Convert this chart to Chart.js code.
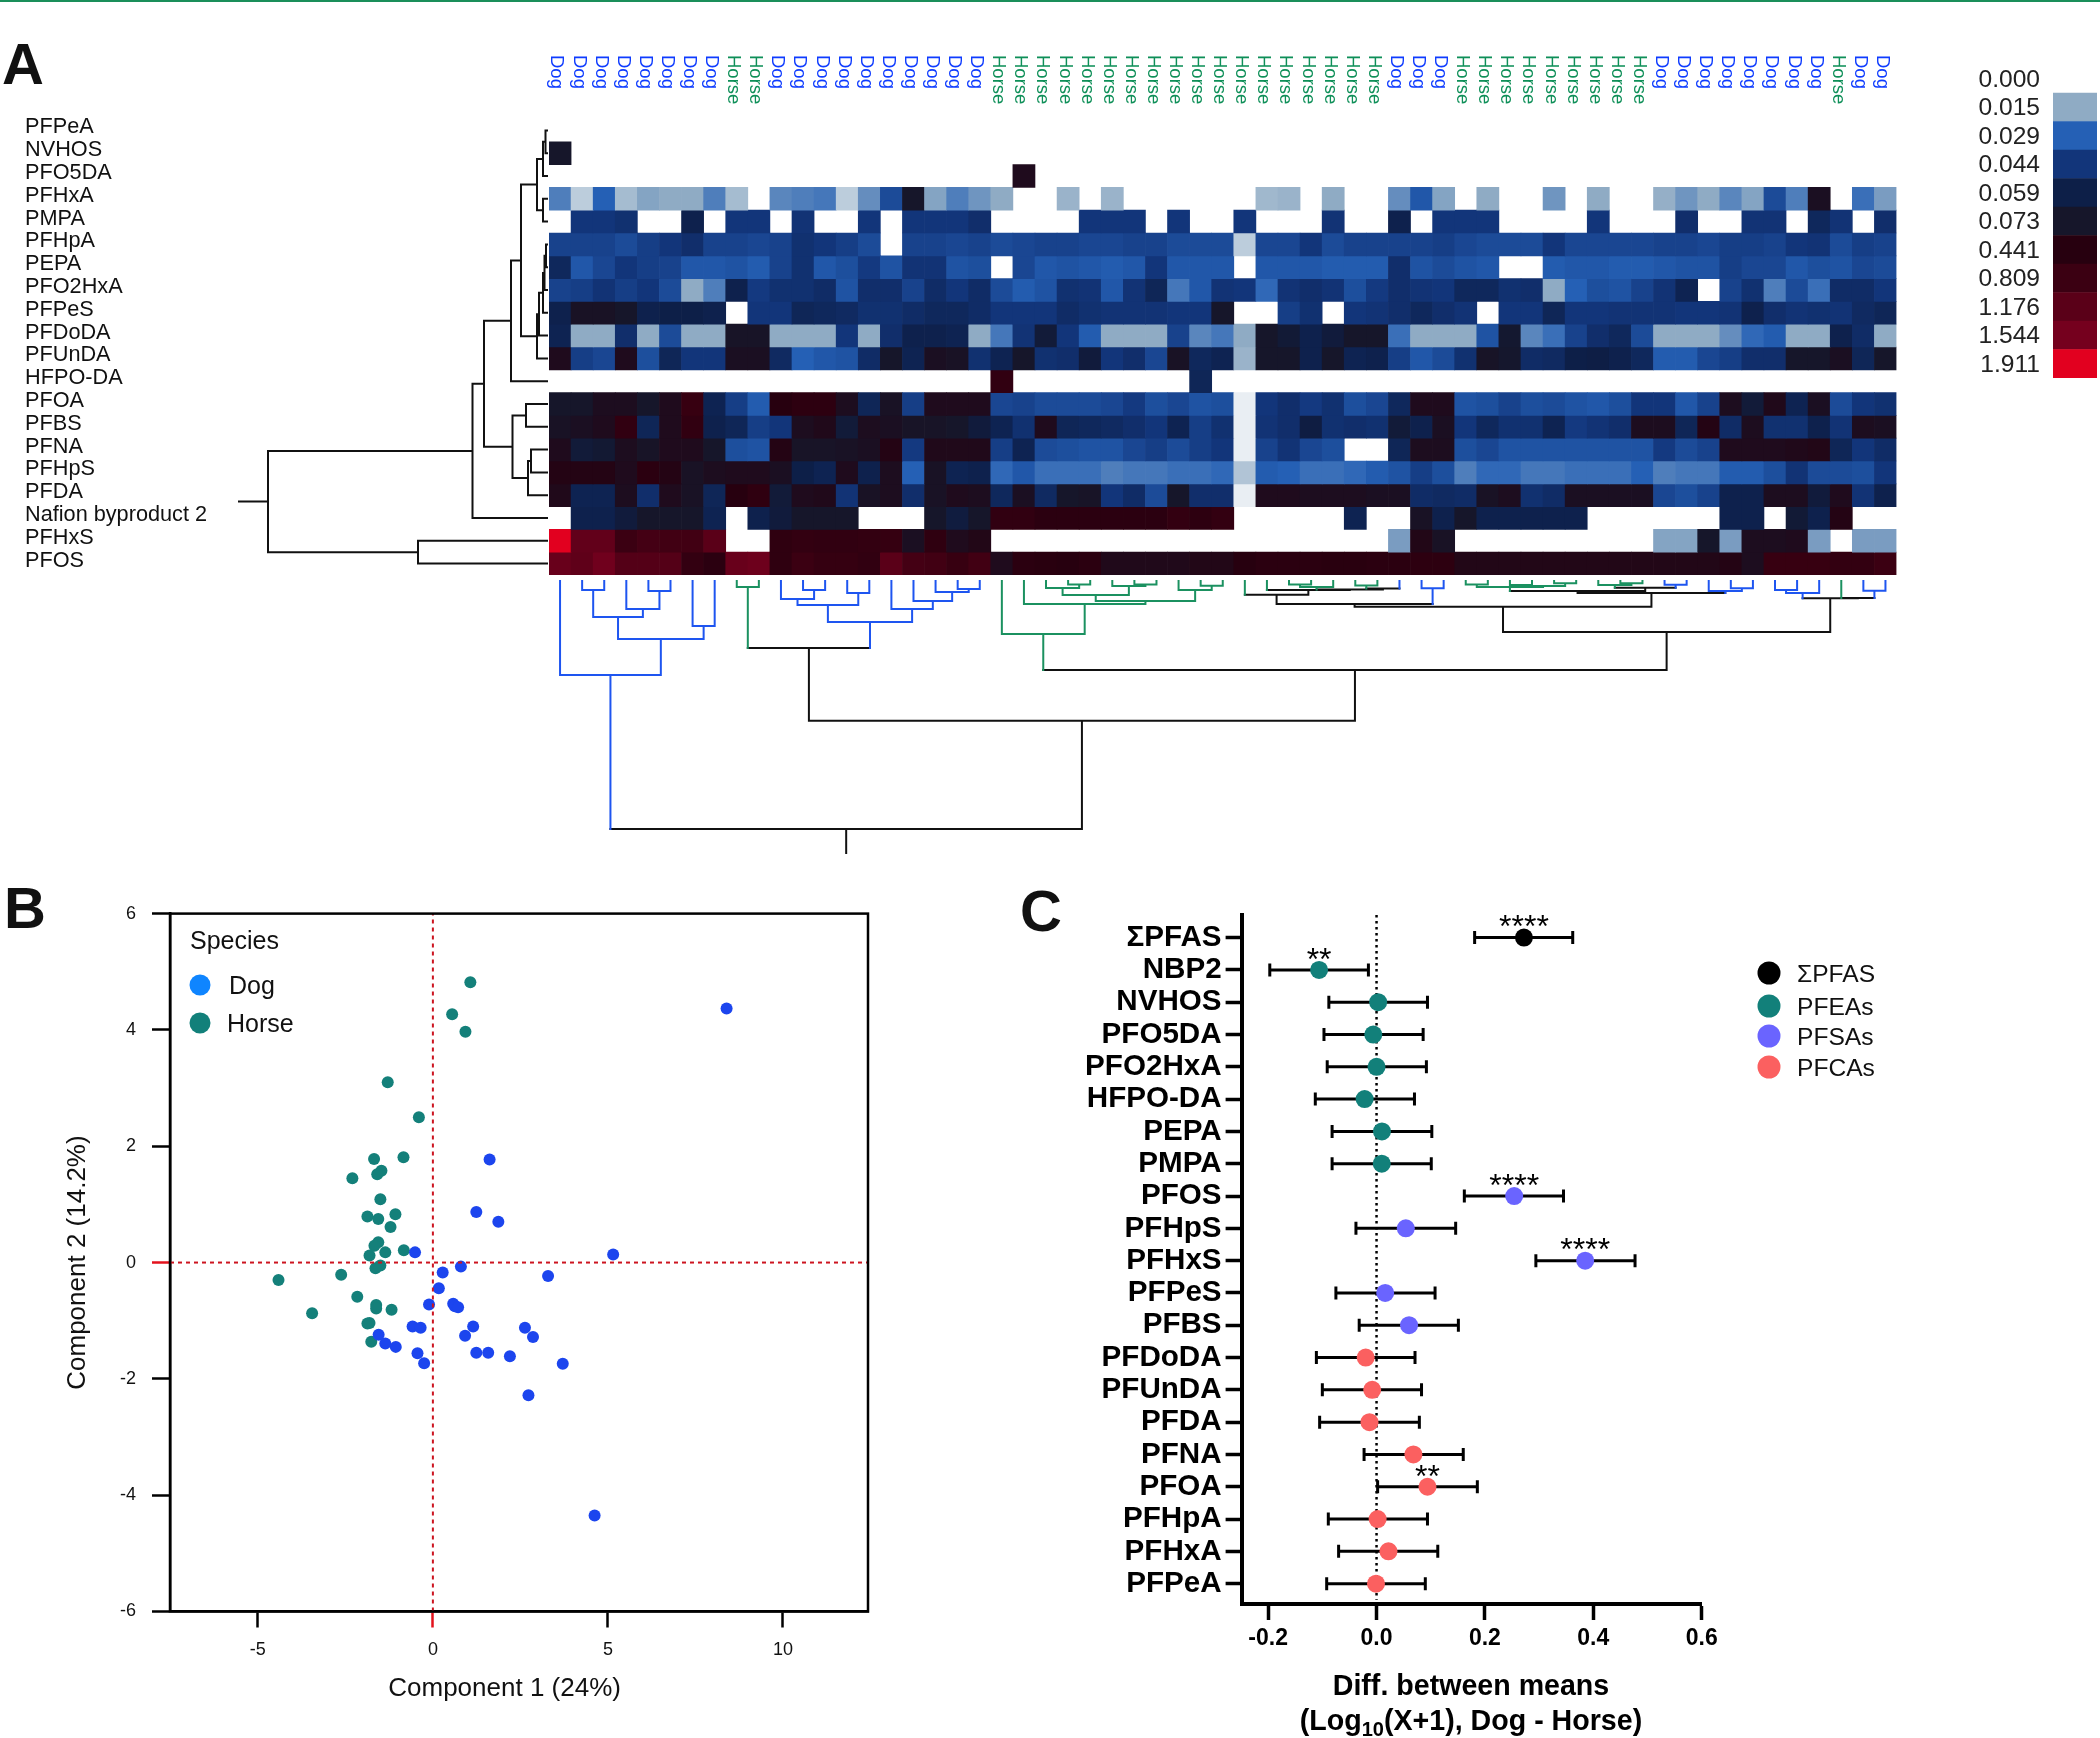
<!DOCTYPE html>
<html>
<head>
<meta charset="utf-8">
<title>PFAS in dogs and horses</title>
<script src="https://cdn.jsdelivr.net/npm/chart.js@4"></script>
<style>
  html, body { margin: 0; padding: 0; background: #fff; }
  #page { position: relative; width: 2100px; height: 1738px; overflow: hidden; font-family: "Liberation Sans", Arial, sans-serif; color: #111; }
  #page canvas { position: absolute; left: 0; top: 0; }
  .txt { position: absolute; white-space: nowrap; transform: translateY(-50%); line-height: 1; }
  .mid { transform: translate(-50%, -50%); }
  .dot { position: absolute; border-radius: 50%; transform: translate(-50%, -50%); }
  sub { font-size: 70%; line-height: 0; }
</style>
</head>
<body>
<div id="page"></div>
<script>
// ---------- panel A data ----------
const rowLabels = ['PFPeA', 'NVHOS', 'PFO5DA', 'PFHxA', 'PMPA', 'PFHpA', 'PEPA', 'PFO2HxA', 'PFPeS', 'PFDoDA', 'PFUnDA', 'HFPO-DA', 'PFOA', 'PFBS', 'PFNA', 'PFHpS', 'PFDA', 'Nafion byproduct 2', 'PFHxS', 'PFOS'];
const colLabels = [
  'Dog', 'Dog', 'Dog', 'Dog', 'Dog', 'Dog', 'Dog', 'Dog', 'Horse', 'Horse',
  'Dog', 'Dog', 'Dog', 'Dog', 'Dog', 'Dog', 'Dog', 'Dog', 'Dog', 'Dog',
  'Horse', 'Horse', 'Horse', 'Horse', 'Horse', 'Horse', 'Horse', 'Horse', 'Horse', 'Horse',
  'Horse', 'Horse', 'Horse', 'Horse', 'Horse', 'Horse', 'Horse', 'Horse', 'Dog', 'Dog',
  'Dog', 'Horse', 'Horse', 'Horse', 'Horse', 'Horse', 'Horse', 'Horse', 'Horse', 'Horse',
  'Dog', 'Dog', 'Dog', 'Dog', 'Dog', 'Dog', 'Dog', 'Dog', 'Horse', 'Dog', 'Dog'
];
const binLabels = ['0.000', '0.015', '0.029', '0.044', '0.059', '0.073', '0.441', '0.809', '1.176', '1.544', '1.911'];
const binColors = ['#ffffff', '#8fabc4', '#2560b5', '#12357a', '#0d1f48', '#16162a', '#27000f', '#3b0012', '#5a0018', '#75001e', '#e2001f'];

// each cell is read as a position on the colour key (0 = 0.000 ... 10 = 1.911)
const heatRows = [
  [0,0,0,0,0,0,0,0,0,0, 0,0,0,0,0,0,0,0,0,0, 0,0,0,0,0,0,0,0,0,0, 0,0,0,0,0,0,0,0,0,0, 0,0,0,0,0,0,0,0,0,0, 0,0,0,0,0,0,0,0,0,0,0],
  [5,0,0,0,0,0,0,0,0,0, 0,0,0,0,0,0,0,0,0,0, 0,0,0,0,0,0,0,0,0,0, 0,0,0,0,0,0,0,0,0,0, 0,0,0,0,0,0,0,0,0,0, 0,0,0,0,0,0,0,0,0,0,0],
  [0,0,0,0,0,0,0,0,0,0, 0,0,0,0,0,0,0,0,0,0, 0,5.5,0,0,0,0,0,0,0,0, 0,0,0,0,0,0,0,0,0,0, 0,0,0,0,0,0,0,0,0,0, 0,0,0,0,0,0,0,0,0,0,0],
  [1.6,.6,2,.8,1.1,1,1,1.6,.8,0, 1.5,1.6,1.7,.6,1.4,2.5,5,1.1,1.6,1.3, 1,0,0,.9,0,.9,0,0,0,0, 0,0,.85,.9,0,1,0,0,1.4,2.2, 1.1,0,1,0,0,1.3,0,1,0,0, .95,1.3,1,1.5,1.1,2.5,1.6,5.3,0,1.8,1.2],
  [0,3,3,3.2,0,0,3.9,0,3,3, 0,3.1,0,0,3,0,3,3,3,3.3, 0,0,0,0,3,3,3,0,3,0, 0,3,0,0,0,3.1,0,0,3.9,0, 3,3,3,0,0,0,0,3,0,0, 0,3.3,0,0,3.1,3.1,0,3.6,3.1,0,3.3],
  [2.7,2.7,2.7,2.5,2.8,3,3.3,2.7,2.7,2.6, 2.7,3.2,3,2.8,2.5,0,2.7,2.7,2.6,2.7, 2.5,2.6,2.7,2.7,2.6,2.6,2.7,2.7,2.5,2.5, 2.5,.6,2.6,2.6,3,2.5,2.7,2.7,2.7,2.7, 2.8,2.6,2.5,2.5,2.5,3,2.6,2.6,2.6,2.6, 2.7,2.7,2.6,2.8,2.8,2.7,3,3.1,2.5,2.8,2.7],
  [3.6,2.2,2.6,3,2.8,2.7,2.2,2.2,2.3,2.1, 2.7,3.2,2.2,2.4,2.9,2.3,3.1,3.1,2.3,2.4, 0,2.6,2.2,2.3,2.2,2.1,2.2,3,2.2,2.2, 2.2,0,2.2,2.2,2.2,2.1,2.1,2.1,3.3,2.3, 2.5,2.3,2.2,0,0,2.1,2.2,2.2,2.1,2.1, 2.2,2.3,2.3,2.8,2.6,2.6,2.2,2.4,2.3,2.6,2.5],
  [2.7,2.8,3.1,2.8,3,2.5,1,1.6,3.9,2.9, 3.2,3.2,3.4,2.3,3.3,3.3,2.7,3.4,3,3.4, 2.5,2.1,2.3,3.2,3.1,2.2,3.1,3.7,1.7,2.2, 3.1,3,1.9,3.1,3.3,3.1,2.4,2.9,3.3,3.1, 3,3.6,3.6,3.2,3.3,1,2,2.4,2.3,2.7, 3.1,3.8,0,2.7,3.2,1.6,2.5,1.8,3.4,3.4,3],
  [3.9,5.2,5.2,5,3.9,4,4,3.9,0,3, 3,3.7,3.6,3.5,3.2,3.2,3.4,3.6,3.6,3.4, 3,3,3,3.4,3.2,3.1,3.1,3.1,3,3, 5,0,0,2.8,3.2,0,3,3.1,3.3,3.6, 3.3,3.1,0,3,3,3.7,3,3,3.1,3.1, 3.1,3,3,3.1,3.9,3.3,3.1,3.2,3.1,3.5,3.7],
  [3.8,1,1,3.3,1,2.5,1,1,5.1,5.1, 1,1,1,3,1,3.3,3.9,3.9,3.8,1, 1.7,3.1,4.5,3,2.1,1,1,1,2.7,1.5, 1.7,1,5,4.6,3.9,4.4,5,5,1.8,1, 1,1,2.3,4.8,1.5,1.8,2.7,3.3,3.6,2.5, 1,1,1,1.4,1.9,2.1,1,1,3.9,3.4,1],
  [5.5,2.8,2.6,5.5,2.4,3.7,3,3,5.3,5.3, 3.5,2,2.2,2.3,3.4,5,3.8,5.3,5.2,3.2, 3.8,5,3.2,3.3,4.4,3,3.3,2.6,5.2,3.6, 3.8,.9,5,5,3.9,5,3.8,3.9,2.8,2.2, 2.5,3.2,5.1,4.9,3.4,3.5,4,4.1,3.9,3.6, 2.1,2.1,2.6,2.8,3.3,3.3,5,5,5.3,3.7,5],
  [0,0,0,0,0,0,0,0,0,0, 0,0,0,0,0,0,0,0,0,0, 6.5,0,0,0,0,0,0,0,0,3.7, 0,0,0,0,0,0,0,0,0,0, 0,0,0,0,0,0,0,0,0,0, 0,0,0,0,0,0,0,0,0,0,0],
  [5,5,5.4,5.4,5,5.5,6.8,3.8,2.8,2.1, 6,6.3,6.3,5.4,3.7,5.2,2.8,5.5,5.5,5.5, 2.6,2.7,2.5,2.5,2.5,2.6,2.9,2.4,2.6,2.3, 2.4,.2,3,3.3,2.9,3.2,2.4,2.6,3.6,5.5, 5.5,2.3,2.4,2.7,2.4,2.5,2.3,2.2,2.4,3, 3,2.2,2.7,5.4,4.5,5.6,3.8,5.3,2.5,3,3.2],
  [5.2,5.3,5.5,6.5,3.7,5.5,6.5,3.9,3.7,2.8, 3,5.4,5.6,4.5,5.4,5.3,5.1,5.1,5,4.4, 3.8,3.2,5.5,3.7,3.6,3.5,3.3,3,3.8,2.8, 3.2,.2,3.1,3.3,4.2,3.2,3.3,3.2,4.5,3.9, 5.3,3,3.6,3.2,3.2,3.8,2.9,3.1,3.3,5.4, 5.4,3.7,5.8,3.4,5.4,3.2,3.2,3.9,3.1,5.4,5.3],
  [5.5,4.5,4.7,5.4,5.1,5.5,5.5,5,2.4,2.3, 5.8,5.1,5.1,5.2,5.3,5.8,2.9,5.6,5.6,5.6, 2.8,3.8,2.5,2.4,2.3,2.3,2.6,2.8,2.5,2.8, 3,.2,2.7,3.1,2.6,2.4,0,0,3.7,5.4, 5.4,2.4,2.6,2.3,2.3,2.3,2.3,2.3,2.3,2.3, 2.9,2.5,2.7,5.5,5.5,5.5,5.6,5.7,3.7,3,3.4],
  [5.8,5.8,5.8,5.5,6.2,5.8,5.2,5.4,5.5,5.5, 5.3,4,3.8,5.5,3.9,5.4,2,5.2,3.8,3.9, 1.9,2.2,1.8,1.8,1.8,1.6,1.7,1.7,1.8,1.8, 1.9,.7,2.1,2,1.8,1.8,1.9,2.1,2.3,2.8, 2.4,1.6,1.9,1.9,1.7,1.7,1.8,1.8,1.8,2, 1.6,1.7,1.7,2.1,2.1,2.4,3.1,2.5,2.5,2.4,3],
  [5.6,3.8,3.8,5.4,3.3,5.5,5.2,3.7,6,6.4, 4.5,5.5,5.6,3.1,5.2,5.4,3.3,5.2,5.5,5.4, 3.6,5.3,3.5,5,5.1,3,3.4,2.5,5,3.3, 3.3,.2,5.5,5.5,5.4,5.4,5.4,5.3,5.3,3.4, 3.5,3.4,5.2,5.4,3.2,3.4,5.3,5.3,5.3,5.3, 2.6,2.4,2.7,3.9,3.9,5.4,5.4,4.4,5.5,3.1,3.9],
  [0,3.9,3.9,4.4,5,5,5,3.8,0,3.9, 4.4,5,5,5,0,0,0,5,4.3,5, 6.5,6.5,6.2,6.2,6.2,6.2,6.2,6.2,6.6,6.3, 6.6,0,0,0,0,0,3.8,0,0,5.2, 3.9,5,3.9,3.9,3.9,3.9,3.9,0,0,0, 0,0,0,3.9,3.9,0,4.6,3.9,5.8,0,0],
  [10,8.3,8.3,7,7.3,7.2,7.2,8,0,0, 6.4,6.6,6.5,6.5,6.6,6.7,5.3,6.4,5.5,5.7, 0,0,0,0,0,0,0,0,0,0, 0,0,0,0,0,0,0,0,1.2,5.7, 5.2,0,0,0,0,0,0,0,0,0, 1.1,1.1,5,1.2,5.4,5.4,5.5,1.2,0,1.2,1.2],
  [8.5,8.2,8.8,7.8,7.8,7.8,6.6,6.2,8.5,8.7, 6.4,7,6.7,6.7,6.5,8,7.3,7.2,6.8,7.2, 5.5,6.2,6.1,6,6.2,5.6,5.6,5.6,5.6,5.7, 5.7,6,6.2,6.2,6.2,6.1,6.1,6.2,6.2,6.3, 6.3,5.7,5.7,5.7,5.7,5.7,5.7,5.7,5.7,5.7, 5.7,5.7,5.7,5.8,5.4,6.8,6.8,6.8,6.6,6.6,7]
];

// dendrograms as nested [height, left, right], a bare number is a leaf
const rowTree = [279,
  [74.5,
    [63,
      [36,
        [26,
          [10, [4, [1.5, 0, 1], 2], [4, 3, 4]],
          [10, [8, [4, [2.5, [1, 5, 6], 7], 8], 9], 10]],
        11],
      [34.5, [21, 12, 13], [19, [16, 14, 15], 16]]],
    17],
  [129, 18, 19]];
const rowTreeTop = 308;

const colTree = [248,
  [94, 0, [58, [36, [9, 1, 2], [28, 3, [10, 4, 5]]], [45, 6, 7]]],
  [139.7,
    [67, [6, 8, 9], [41, [24, [18, 10, [9, 11, 12]], [12, 13, 14]], [28, 15, [20, 16, [11, 17, [8, 18, 19]]]]]],
    [89,
      [53, 20, [23, 21, [20, [14, [7, 22, [3.5, 23, 24]], [5, 25, [3.5, 26, 27]]], [9, 28, [4.7, 29, 30]]]]],
      [51,
        [25.7,
          [23, [13.7, 31, [9, 32, [8.5, [6, [3.5, 33, 34], 35], [7.5, [4.5, 36, 37], 38]]]], [7.3, 39, 40]],
          [12,
            [10, [6, [3.5, 41, 42], [5, [4, 43, 44], [2.3, 45, 46]]], [6.7, [4, 47, [2.3, 48, 49]], [3.7, 50, 51]]],
            [10, 52, [7.3, 53, 54]]]],
        [17.3, [12, [9, 55, 56], 57], [17, 58, [9.7, 59, 60]]]]]]];
const colTreeTop = 272;

// ---------- panel B data ----------
const dogX = [8.39, 1.62, 1.24, 1.87, -0.51, 5.15, 0.80, 3.29, 0.28, 0.17, -0.11, 0.58, 0.63, 0.72, 1.15, -0.58, -0.35, 2.63, 2.86, 0.92, -1.55, -1.36, -1.06, -0.44, 1.24, 1.58, 2.2, -0.25, 3.71, 2.73, 4.62];
const dogY = [4.37, 1.77, 0.87, 0.70, 0.175, 0.14, -0.07, -0.23, -0.17, -0.44, -0.72, -0.71, -0.75, -0.77, -1.10, -1.10, -1.12, -1.12, -1.28, -1.26, -1.24, -1.39, -1.45, -1.56, -1.55, -1.55, -1.61, -1.73, -1.74, -2.28, -4.35];
const horseX = [1.07, 0.55, 0.93, -1.29, -0.40, -1.68, -0.84, -1.47, -1.59, -2.30, -1.50, -1.87, -1.56, -1.07, -1.21, -1.56, -1.67, -1.36, -0.83, -1.81, -1.50, -1.64, -4.41, -2.62, -2.16, -3.45, -1.62, -1.62, -1.18, -1.81, -1.87, -1.76];
const horseY = [4.82, 4.27, 3.97, 3.10, 2.50, 1.78, 1.81, 1.58, 1.52, 1.45, 1.09, 0.79, 0.75, 0.83, 0.61, 0.35, 0.29, 0.175, 0.21, 0.12, -0.05, -0.10, -0.30, -0.21, -0.59, -0.87, -0.73, -0.79, -0.81, -1.04, -1.05, -1.36];
const scoreTicksX = [-5, 0, 5, 10];
const scoreTicksY = [-6, -4, -2, 0, 2, 4, 6];

// ---------- panel C data ----------
const diffLabels = ['ΣPFAS', 'NBP2', 'NVHOS', 'PFO5DA', 'PFO2HxA', 'HFPO-DA', 'PEPA', 'PMPA', 'PFOS', 'PFHpS', 'PFHxS', 'PFPeS', 'PFBS', 'PFDoDA', 'PFUnDA', 'PFDA', 'PFNA', 'PFOA', 'PFHpA', 'PFHxA', 'PFPeA'];
const diffMean = [0.272, -0.106, 0.003, -0.006, 0, -0.022, 0.010, 0.0096, 0.254, 0.054, 0.385, 0.016, 0.060, -0.020, -0.008, -0.013, 0.068, 0.094, 0.002, 0.022, -0.001];
const diffLow = [0.181, -0.197, -0.088, -0.097, -0.091, -0.113, -0.082, -0.082, 0.162, -0.038, 0.294, -0.075, -0.032, -0.111, -0.100, -0.105, -0.023, 0.002, -0.089, -0.070, -0.092];
const diffHigh = [0.362, -0.015, 0.094, 0.086, 0.092, 0.070, 0.102, 0.101, 0.345, 0.146, 0.477, 0.108, 0.151, 0.071, 0.083, 0.079, 0.160, 0.186, 0.094, 0.113, 0.090];
const diffGroup = [0, 1, 1, 1, 1, 1, 1, 1, 2, 2, 2, 2, 2, 3, 3, 3, 3, 3, 3, 3, 3];
const groupNames = ['ΣPFAS', 'PFEAs', 'PFSAs', 'PFCAs'];
const groupColors = ['#000000', '#12807a', '#6a64ff', '#fb6060'];
const starRows = [0, 1, 8, 10, 17];
const starText = ['****', '**', '****', '****', '**'];
const diffTicks = [-0.2, 0, 0.2, 0.4, 0.6];

const speciesColors = { Dog: '#1e55f0', Horse: '#1b9160', mixed: '#111111' };

// ---------- helpers ----------
const PAGE_W = 2100;
const PAGE_H = 1738;
const page = document.getElementById('page');

Chart.defaults.animation = false;
Chart.defaults.responsive = false;
Chart.defaults.font.family = '"Liberation Sans", Arial, sans-serif';
Chart.defaults.color = '#111';
Chart.defaults.plugins.legend.display = false;
Chart.defaults.plugins.tooltip.enabled = false;

function makeChart(config) {
  const canvas = document.createElement('canvas');
  canvas.width = PAGE_W;
  canvas.height = PAGE_H;
  page.appendChild(canvas);
  return new Chart(canvas.getContext('2d'), config);
}

// every canvas covers the page, the padding leaves room around the plot and its axes
function around(left, top, right, bottom) {
  return { left: left, top: top, right: PAGE_W - right, bottom: PAGE_H - bottom };
}

function addText(html, x, y, css, centered) {
  const el = document.createElement('div');
  el.className = centered ? 'txt mid' : 'txt';
  el.innerHTML = html;
  el.style.cssText = `left:${x}px;top:${y}px;${css}`;
  page.appendChild(el);
}

function addDot(x, y, size, color) {
  const el = document.createElement('div');
  el.className = 'dot';
  el.style.cssText = `left:${x}px;top:${y}px;width:${size}px;height:${size}px;background:${color}`;
  page.appendChild(el);
}

function binColor(bin) {
  if (bin <= 0) return 'rgba(255,255,255,0)';
  const low = Math.min(Math.floor(bin), binColors.length - 2);
  const t = bin - low;
  const a = Chart.helpers.color(binColors[low]).rgb;
  const b = Chart.helpers.color(binColors[low + 1]).rgb;
  const mix = k => Math.round(a[k] + (b[k] - a[k]) * t);
  return `rgb(${mix('r')},${mix('g')},${mix('b')})`;
}

// walks a dendrogram and collects the branch lines per colour group
function walkTree(node, leafGroup, lines) {
  if (typeof node === 'number') {
    return { pos: node + 0.5, h: 0, group: leafGroup(node) };
  }
  const left = walkTree(node[1], leafGroup, lines);
  const right = walkTree(node[2], leafGroup, lines);
  const group = left.group === right.group ? left.group : 'mixed';
  lines[left.group].push([left.pos, left.h, left.pos, node[0]]);
  lines[right.group].push([right.pos, right.h, right.pos, node[0]]);
  lines[group].push([left.pos, node[0], right.pos, node[0]]);
  return { pos: (left.pos + right.pos) / 2, h: node[0], group: group };
}

// one line dataset per colour, NaN points break the line between branches
function treeDatasets(tree, topHeight, leafGroup, toPoint, width) {
  const lines = { Dog: [], Horse: [], mixed: [] };
  const root = walkTree(tree, leafGroup, lines);
  lines[root.group].push([root.pos, root.h, root.pos, topHeight]);
  return Object.keys(lines).map(group => ({
    data: lines[group].flatMap(l => [toPoint(l[0], l[1]), toPoint(l[2], l[3]), { x: NaN, y: NaN }]),
    showLine: true,
    spanGaps: false,
    pointRadius: 0,
    borderColor: speciesColors[group],
    borderWidth: width,
    borderCapStyle: 'square',
    clip: false
  }));
}

// ---------- panel A: heat map ----------
const colLabelsPlugin = {
  id: 'colLabels',
  afterDraw(chart) {
    const ctx = chart.ctx;
    const scale = chart.scales.x;
    ctx.save();
    ctx.font = '18.5px "Liberation Sans", Arial, sans-serif';
    ctx.textAlign = 'left';
    ctx.textBaseline = 'middle';
    colLabels.forEach((label, i) => {
      ctx.save();
      ctx.translate(scale.getPixelForValue(i) - 3.5, 55);
      ctx.rotate(Math.PI / 2);
      ctx.fillStyle = label === 'Dog' ? '#0f3cff' : '#0e8f58';
      ctx.fillText(label, 0, 0);
      ctx.restore();
    });
    ctx.restore();
  }
};

makeChart({
  type: 'bar',
  data: {
    labels: colLabels,
    datasets: rowLabels.map((row, r) => ({
      label: row,
      data: colLabels.map(() => 1),
      backgroundColor: ctx => binColor(heatRows[r][ctx.dataIndex]),
      stack: 'rows'
    }))
  },
  options: {
    layout: { padding: around(549, 119, 1896.5, 575) },
    datasets: { bar: { barPercentage: 1, categoryPercentage: 1, borderWidth: 0 } },
    scales: {
      x: { display: false, stacked: true },
      y: { display: false, stacked: true, reverse: true, min: 0, max: rowLabels.length }
    }
  },
  plugins: [colLabelsPlugin]
});

// row dendrogram, the row names sit on its y axis
makeChart({
  type: 'scatter',
  data: { datasets: treeDatasets(rowTree, rowTreeTop, () => 'mixed', (p, h) => ({ x: h, y: p }), 2) },
  options: {
    layout: { padding: around(25, 119, 547, 575) },
    scales: {
      x: { display: false, reverse: true, min: 0, max: rowTreeTop },
      y: {
        reverse: true,
        min: 0,
        max: rowLabels.length,
        afterFit: s => { s.width = 214; },
        afterBuildTicks: s => { s.ticks = rowLabels.map((_, i) => ({ value: i + 0.5 })); },
        grid: { display: false },
        border: { display: false },
        ticks: {
          autoSkip: false,
          crossAlign: 'far',
          padding: 0,
          labelOffset: -3,
          font: { size: 21.7 },
          callback: v => rowLabels[Math.floor(v)]
        }
      }
    }
  }
});

// column dendrogram, uses the same column positions as the heat map
makeChart({
  type: 'scatter',
  data: { datasets: treeDatasets(colTree, colTreeTop, i => colLabels[i], (p, h) => ({ x: p, y: h }), 2) },
  options: {
    layout: { padding: around(549, 581, 1896.5, 853) },
    scales: {
      x: { display: false, min: 0, max: colLabels.length },
      y: { display: false, reverse: true, min: 0, max: colTreeTop }
    }
  }
});

// colour key
makeChart({
  type: 'bar',
  data: {
    labels: binLabels,
    datasets: [{ data: binLabels.map(() => 1), backgroundColor: binColors }]
  },
  options: {
    indexAxis: 'y',
    layout: { padding: around(1960, 64.5, 2097, 378) },
    datasets: { bar: { barPercentage: 1, categoryPercentage: 1, borderWidth: 0 } },
    scales: {
      x: { display: false, min: 0, max: 1 },
      y: {
        afterFit: s => { s.width = 93; },
        grid: { display: false },
        border: { display: false },
        ticks: { autoSkip: false, padding: 5, labelOffset: 1, color: '#222', font: { size: 24.6 } }
      }
    }
  }
});

// ---------- panel B: scores ----------
const framePlugin = {
  id: 'frame',
  afterDatasetsDraw(chart) {
    const a = chart.chartArea;
    chart.ctx.save();
    chart.ctx.strokeStyle = '#000';
    chart.ctx.lineWidth = 2.5;
    chart.ctx.strokeRect(a.left, a.top, a.width, a.height);
    chart.ctx.restore();
  }
};
const redTick = ctx => (ctx.tick && ctx.tick.value === 0 ? '#e3121c' : '#000');

makeChart({
  type: 'scatter',
  data: {
    datasets: [
      { data: [{ x: -7.51, y: 0 }, { x: 12.43, y: 0 }], showLine: true, pointRadius: 0, borderColor: '#cc1420', borderWidth: 2, borderDash: [4, 4] },
      { data: [{ x: 0, y: -6 }, { x: 0, y: 6 }], showLine: true, pointRadius: 0, borderColor: '#cc1420', borderWidth: 2, borderDash: [4, 4] },
      { data: dogX.map((x, i) => ({ x: x, y: dogY[i] })), pointRadius: 6, backgroundColor: '#1c45ee', borderWidth: 0 },
      { data: horseX.map((x, i) => ({ x: x, y: horseY[i] })), pointRadius: 6, backgroundColor: '#14807a', borderWidth: 0 }
    ]
  },
  options: {
    layout: { padding: around(62, 913.6, 868, 1661.5) },
    scales: {
      x: {
        min: -7.51,
        max: 12.43,
        afterFit: s => { s.height = 50; },
        afterBuildTicks: s => { s.ticks = scoreTicksX.map(v => ({ value: v })); },
        grid: { drawOnChartArea: false, tickLength: 16, tickWidth: 2.5, tickColor: redTick },
        border: { color: '#000', width: 2.5 },
        ticks: { padding: 12, font: { size: 18 } }
      },
      y: {
        min: -6,
        max: 6,
        afterFit: s => { s.width = 108; },
        afterBuildTicks: s => { s.ticks = scoreTicksY.map(v => ({ value: v })); },
        grid: { drawOnChartArea: false, tickLength: 18, tickWidth: 2.5, tickColor: redTick },
        border: { color: '#000', width: 2.5 },
        ticks: { padding: 16, font: { size: 18 } },
        title: { display: true, text: 'Component 2 (14.2%)', padding: 0, font: { size: 26 } }
      }
    }
  },
  plugins: [framePlugin]
});
addText('Component 1 (24%)', 504.6, 1687, 'font-size:26px', true);
addText('Species', 190, 940, 'font-size:25px');
addDot(200, 985, 21, '#0f85ff');
addDot(200, 1023, 21, '#12807a');
addText('Dog', 229, 985, 'font-size:25px');
addText('Horse', 227, 1023, 'font-size:25px');

// ---------- panel C: difference between means ----------
const starsPlugin = {
  id: 'stars',
  afterDatasetsDraw(chart) {
    const ctx = chart.ctx;
    ctx.save();
    ctx.font = '32px "Liberation Sans", Arial, sans-serif';
    ctx.textAlign = 'center';
    ctx.textBaseline = 'middle';
    ctx.fillStyle = '#000';
    starRows.forEach((row, i) => {
      const x = chart.scales.x.getPixelForValue(diffMean[row]);
      const y = chart.scales.y.getPixelForValue(row);
      ctx.fillText(starText[i], x, y - 9);
    });
    ctx.restore();
  }
};

const errorBars = diffLabels.map((label, i) => ({
  label: label,
  data: [{ x: diffLow[i], y: i }, { x: diffHigh[i], y: i }],
  showLine: true,
  borderColor: '#000',
  borderWidth: 3,
  pointStyle: 'line',
  pointRotation: 90,
  pointRadius: 6.5,
  pointBorderColor: '#000',
  pointBorderWidth: 3,
  order: 2
}));
const meanDots = groupNames.map((name, g) => ({
  label: name,
  data: diffMean.map((m, i) => ({ x: m, y: i })).filter(p => diffGroup[p.y] === g),
  pointRadius: 9,
  backgroundColor: groupColors[g],
  borderWidth: 0,
  order: 1
}));

makeChart({
  type: 'scatter',
  data: {
    datasets: [
      { data: [{ x: 0, y: -0.7 }, { x: 0, y: 20.5 }], showLine: true, pointRadius: 0, borderColor: '#000', borderWidth: 2.5, borderDash: [2.5, 3.5], order: 3 },
      ...errorBars,
      ...meanDots
    ]
  },
  options: {
    layout: { padding: around(1000, 915, 1701.7, 1654) },
    scales: {
      x: {
        min: -0.249,
        max: 0.6,
        afterFit: s => { s.height = 50; },
        afterBuildTicks: s => { s.ticks = diffTicks.map(v => ({ value: v })); },
        grid: { drawOnChartArea: false, tickLength: 16, tickWidth: 3.5, tickColor: '#000' },
        border: { color: '#000', width: 4 },
        ticks: { padding: 5, font: { size: 23, weight: 'bold' }, color: '#000', callback: v => v.toFixed(1) }
      },
      y: {
        reverse: true,
        min: -0.7,
        max: 20.63,
        afterFit: s => { s.width = 241.6; },
        afterBuildTicks: s => { s.ticks = diffLabels.map((_, i) => ({ value: i })); },
        grid: { drawOnChartArea: false, tickLength: 16, tickWidth: 3.5, tickColor: '#000' },
        border: { color: '#000', width: 4 },
        ticks: { autoSkip: false, padding: 4, font: { size: 29.6, weight: 'bold' }, color: '#000', callback: v => diffLabels[v] }
      }
    }
  },
  plugins: [starsPlugin]
});
addText('Diff. between means', 1471, 1685, 'font-size:28.6px;font-weight:bold;color:#000', true);
addText('(Log<sub>10</sub>(X+1), Dog - Horse)', 1471, 1720, 'font-size:28.6px;font-weight:bold;color:#000', true);

const legendRowsY = [973, 1005.6, 1036.4, 1067];
groupNames.forEach((name, g) => {
  addDot(1769, legendRowsY[g], 23, groupColors[g]);
  addText(name, 1797, legendRowsY[g] + 1, 'font-size:24.6px');
});

// ---------- page furniture ----------
addText('A', 2, 64, 'font-size:58px;font-weight:bold;color:#111');
addText('B', 4, 908, 'font-size:58px;font-weight:bold;color:#111');
addText('C', 1020, 911, 'font-size:58px;font-weight:bold;color:#111');
const topRule = document.createElement('div');
topRule.style.cssText = 'position:absolute;left:0;top:0;width:100%;height:1.5px;background:#1a8f5a';
page.appendChild(topRule);
</script>
</body>
</html>
